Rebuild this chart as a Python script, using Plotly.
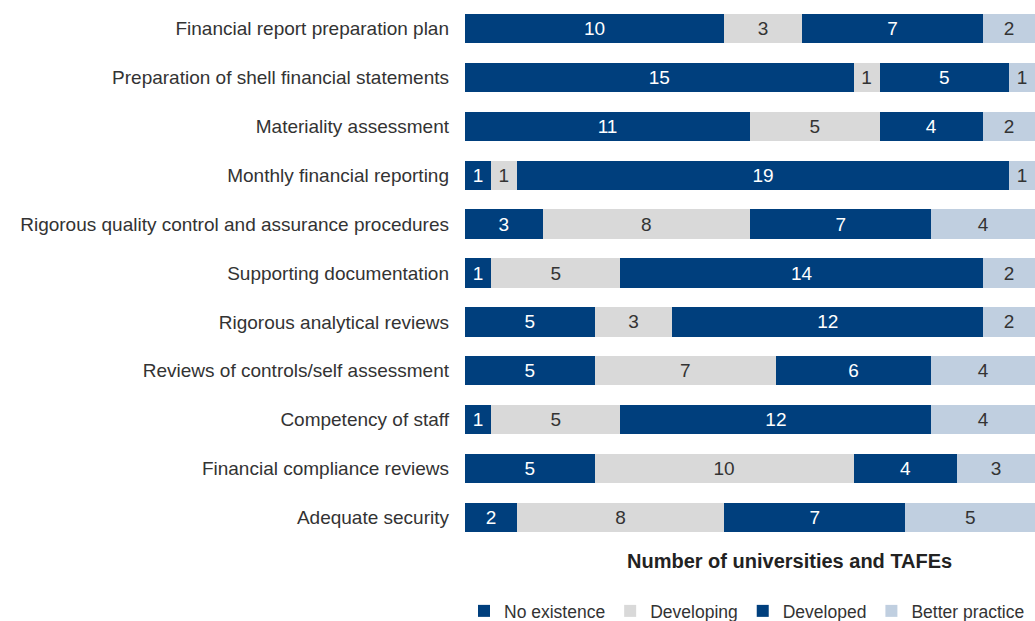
import plotly.graph_objects as go

categories = [
    "Financial report preparation plan",
    "Preparation of shell financial statements",
    "Materiality assessment",
    "Monthly financial reporting",
    "Rigorous quality control and assurance procedures",
    "Supporting documentation",
    "Rigorous analytical reviews",
    "Reviews of controls/self assessment",
    "Competency of staff",
    "Financial compliance reviews",
    "Adequate security",
]
no_existence = [10, 15, 11, 1, 3, 1, 5, 5, 1, 5, 2]
developing = [3, 1, 5, 1, 8, 5, 3, 7, 5, 10, 8]
developed = [7, 5, 4, 19, 7, 14, 12, 6, 12, 4, 7]
better_practice = [2, 1, 2, 1, 4, 2, 2, 4, 4, 3, 5]

series = [
    ("No existence", no_existence, "#003f7d", "#ffffff"),
    ("Developing", developing, "#d9d9d9", "#333333"),
    ("Developed", developed, "#003f7d", "#ffffff"),
    ("Better practice", better_practice, "#c0cfe0", "#333333"),
]

FONT = "Liberation Sans, Arial, sans-serif"

fig = go.Figure()
for name, vals, color, tcolor in series:
    fig.add_trace(go.Bar(
        y=categories,
        x=vals,
        name=name,
        orientation="h",
        marker=dict(color=color, line=dict(width=0)),
        text=vals,
        textposition="inside",
        insidetextanchor="middle",
        textangle=0,
        textfont=dict(color=tcolor, size=19, family=FONT),
        constraintext="none",
        hoverinfo="skip",
    ))

fig.update_layout(
    width=1035,
    height=621,
    barmode="stack",
    bargap=0.4,
    plot_bgcolor="white",
    paper_bgcolor="white",
    margin=dict(l=465, r=0, t=4, b=79),
    font=dict(family=FONT, size=19, color="#333333"),
    showlegend=True,
    legend=dict(
        orientation="h",
        xref="container", yref="container",
        x=464 / 1035, xanchor="left",
        y=10 / 621, yanchor="middle",
        font=dict(size=17.5, color="#333333"),
        itemwidth=30,
        traceorder="normal",
    ),
    annotations=[dict(
        text="<b>Number of universities and TAFEs</b>",
        xref="paper", yref="paper",
        x=0.570, y=-0.0353,
        xanchor="center", yanchor="middle",
        showarrow=False,
        font=dict(size=20, color="#222222"),
    )],
)
fig.update_xaxes(range=[0, 22], showticklabels=False, showgrid=False,
                 zeroline=False, showline=False, ticks="")
fig.update_yaxes(autorange="reversed", showgrid=False, zeroline=False,
                 showline=False, ticks="", ticklabelstandoff=15,
                 tickfont=dict(size=19, color="#333333"))

fig.write_html("out.html")
